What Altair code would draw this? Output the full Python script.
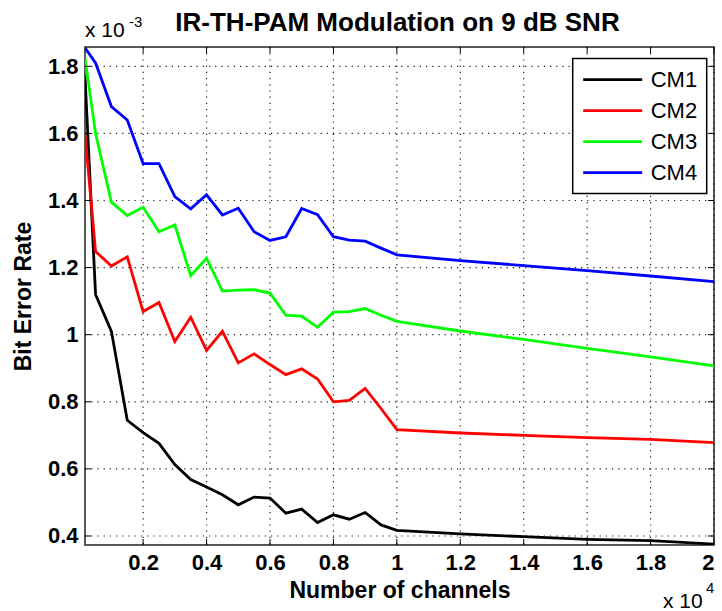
import altair as alt
import pandas as pd

# x in units of 10^4 channels, y in units of 10^-3
x_vals = [0.0167, 0.05, 0.1, 0.15, 0.2, 0.25, 0.3, 0.35, 0.4, 0.45, 0.5, 0.55, 0.6,
          0.65, 0.7, 0.75, 0.8, 0.85, 0.9, 0.95, 1.0, 1.2, 1.4, 1.6, 1.8, 2.0]
cm1 = [1.77, 1.12, 1.01, 0.745, 0.708, 0.676, 0.613, 0.568, 0.546, 0.523, 0.493, 0.516, 0.513,
       0.468, 0.48, 0.44, 0.463, 0.45, 0.47, 0.433, 0.417, 0.406, 0.398, 0.39, 0.386, 0.376]
cm2 = [1.60, 1.248, 1.205, 1.232, 1.069, 1.096, 0.98, 1.052, 0.953, 1.01, 0.916, 0.943, 0.911,
       0.881, 0.898, 0.868, 0.80, 0.804, 0.840, 0.78, 0.717, 0.707, 0.70, 0.693, 0.688, 0.678]
cm3 = [1.825, 1.60, 1.395, 1.355, 1.38, 1.307, 1.327, 1.176, 1.228, 1.13, 1.133, 1.134, 1.124,
       1.058, 1.055, 1.022, 1.067, 1.069, 1.078, 1.058, 1.04, 1.011, 0.986, 0.959, 0.934, 0.907]
cm4 = [1.855, 1.81, 1.68, 1.64, 1.51, 1.51, 1.412, 1.375, 1.417, 1.357, 1.377, 1.307, 1.281,
       1.292, 1.376, 1.358, 1.292, 1.282, 1.279, 1.258, 1.238, 1.221, 1.206, 1.191, 1.175, 1.158]

series_names = ["CM1", "CM2", "CM3", "CM4"]
series_colors = ["#000000", "#ff0000", "#00ff00", "#0000ff"]
x_ticks = [0.2, 0.4, 0.6, 0.8, 1.0, 1.2, 1.4, 1.6, 1.8, 2.0]
y_ticks = [0.4, 0.6, 0.8, 1.0, 1.2, 1.4, 1.6, 1.8]

title_text = "IR-TH-PAM Modulation on 9 dB SNR"
x_title = "Number of channels"
y_title = "Bit Error Rate"

rows = []
for name, ys in zip(series_names, [cm1, cm2, cm3, cm4]):
    for i, (xv, yv) in enumerate(zip(x_vals, ys)):
        rows.append({"x": xv, "y": yv, "series": name, "order": i})
df = pd.DataFrame(rows)

W, H = 629, 498
FONT = "Liberation Sans"
xdom = [0.0167, 2.0]
ydom = [0.3731, 1.8576]

xscale = alt.Scale(domain=xdom, nice=False, zero=False)
yscale = alt.Scale(domain=ydom, nice=False, zero=False)
ax_kw = dict(grid=False, domain=False, ticks=False)
xaxis = alt.Axis(values=x_ticks, format=".1~f", title=x_title, labelPadding=7, titlePadding=6,
                 **ax_kw)
yaxis = alt.Axis(values=y_ticks, format=".1~f", title=y_title, labelPadding=7, titlePadding=12,
                 **ax_kw)

xt = pd.DataFrame({"x": x_ticks})
yt = pd.DataFrame({"y": y_ticks})

# dotted grid (MATLAB ':' style)
grid_x = alt.Chart(xt).mark_rule(color="black", strokeWidth=1.2, strokeDash=[1.2, 5],
                                 opacity=0.9).encode(
    x=alt.X("x:Q", scale=xscale, axis=xaxis), y=alt.value(0), y2=alt.value(H))
grid_y = alt.Chart(yt).mark_rule(color="black", strokeWidth=1.2, strokeDash=[1.2, 5],
                                 opacity=0.9).encode(
    y=alt.Y("y:Q", scale=yscale, axis=yaxis), x=alt.value(0), x2=alt.value(W))

lines = alt.Chart(df).mark_line(strokeWidth=2.8, clip=True).encode(
    x=alt.X("x:Q", scale=xscale, axis=xaxis),
    y=alt.Y("y:Q", scale=yscale, axis=yaxis),
    color=alt.Color("series:N",
                    scale=alt.Scale(domain=series_names, range=series_colors),
                    legend=alt.Legend(orient="none", legendX=487.7, legendY=11.6, title=None,
                                      symbolType="stroke", symbolSize=3481,
                                      symbolStrokeWidth=2.8, clipHeight=24, rowPadding=7,
                                      labelFont=FONT, labelFontSize=22, labelColor="black",
                                      labelOffset=7, padding=9, strokeColor="black",
                                      fillColor="white")),
    order="order:O",
)

tick_bottom = alt.Chart(xt).mark_rule(color="black", strokeWidth=1).encode(
    x=alt.X("x:Q", scale=xscale, axis=xaxis), y=alt.value(H), y2=alt.value(H - 6))
tick_top = alt.Chart(xt).mark_rule(color="black", strokeWidth=1).encode(
    x=alt.X("x:Q", scale=xscale, axis=xaxis), y=alt.value(0), y2=alt.value(6))
tick_left = alt.Chart(yt).mark_rule(color="black", strokeWidth=1).encode(
    y=alt.Y("y:Q", scale=yscale, axis=yaxis), x=alt.value(0), x2=alt.value(6))
tick_right = alt.Chart(yt).mark_rule(color="black", strokeWidth=1).encode(
    y=alt.Y("y:Q", scale=yscale, axis=yaxis), x=alt.value(W), x2=alt.value(W - 6))


def txt(label, xp, yp, size, weight="normal", align="left"):
    return alt.Chart(pd.DataFrame({"t": [label]})).mark_text(
        align=align, baseline="alphabetic", font=FONT, fontSize=size, fontWeight=weight,
        color="black"
    ).encode(text="t:N", x=alt.value(xp), y=alt.value(yp))


annotations = [
    txt(title_text, W / 2 - 2, -16, 26, "bold", "center"),
    txt("x 10", 0, -10.5, 21),
    txt("-3", 44, -20, 15),
    txt("x 10", 578, 561, 21),
    txt("4", 621, 546, 15),
]

chart = alt.layer(grid_x, grid_y, lines, tick_bottom, tick_top, tick_left, tick_right,
                  *annotations).properties(
    width=W, height=H,
    autosize=alt.AutoSizeParams(type="none"),
    padding={"left": 85, "top": 47, "right": 8, "bottom": 66},
    background="white",
).configure_view(
    stroke="#222222", strokeWidth=1.5
).configure_axis(
    labelFont=FONT, labelFontSize=22, labelFontWeight="bold", labelColor="black",
    titleFont=FONT, titleFontSize=23, titleFontWeight="bold", titleColor="black",
).configure_legend(
    strokeWidth=1.5
)

chart.save("out.html", embed_options={"renderer": "svg", "actions": False})
